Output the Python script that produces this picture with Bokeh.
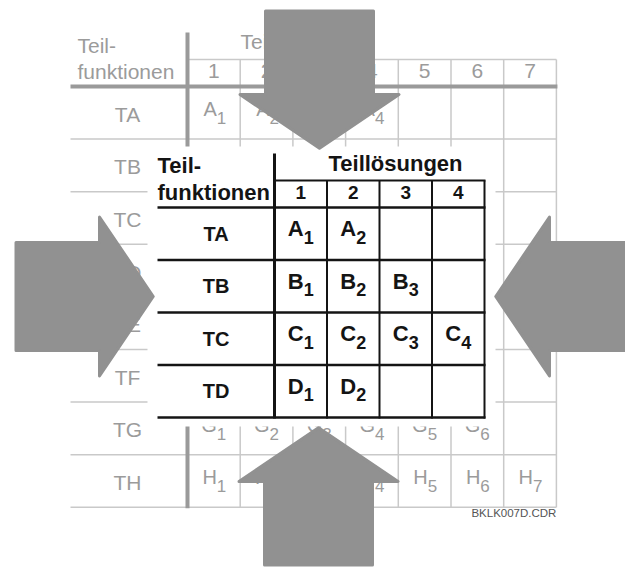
from bokeh.plotting import figure
from bokeh.models import Range1d
from bokeh.core.properties import value
from bokeh.embed import file_html
from bokeh.resources import INLINE

# ---------------- data ----------------
back_row_labels = ["TA", "TB", "TC", "TD", "TE", "TF", "TG", "TH"]
back_col_labels = ["1", "2", "3", "4", "5", "6", "7"]
back_corner_label = ["Teil-", "funktionen"]
back_title = "Teillösungen"
back_cells = {
    "TA": ["A1", "A2", "A3", "A4", "", "", ""],
    "TG": ["G1", "G2", "G3", "G4", "G5", "G6", ""],
    "TH": ["H1", "H2", "H3", "H4", "H5", "H6", "H7"],
}

front_row_labels = ["TA", "TB", "TC", "TD"]
front_col_labels = ["1", "2", "3", "4"]
front_corner_label = ["Teil-", "funktionen"]
front_title = "Teillösungen"
front_cells = [
    ["A1", "A2", "", ""],
    ["B1", "B2", "B3", ""],
    ["C1", "C2", "C3", "C4"],
    ["D1", "D2", "", ""],
]

file_name = "BKLK007D.CDR"
arrow_directions = ["down", "up", "right", "left"]

# ---------------- styles / layout ----------------
FONT = value("Liberation Sans")
GRAY_TXT = "#9b9b9b"
LGRAY = "#c9c9c9"
MGRAY = "#9a9a9a"
ARROW = "#919191"
BLACK = "#141414"
BASE_FIX = 0.43  # em correction for rendered baseline

p = figure(width=625, height=567, x_range=Range1d(0, 625), y_range=Range1d(567, 0),
           output_backend="svg", toolbar_location=None, min_border=0,
           x_axis_type=None, y_axis_type=None)
p.grid.visible = False
p.outline_line_color = None
p.background_fill_color = "white"
p.border_fill_color = "white"


def texts(xs, ys, strs, size, color, align="center", bold=False):
    ys = [y - BASE_FIX * size for y in ys]
    p.text(x=xs, y=ys, text=strs, text_font=FONT, text_font_size=f"{size}px",
           text_color=color, text_align=align, text_baseline="alphabetic",
           text_font_style="bold" if bold else "normal")


def cell_texts(centers_x, centers_y, entries, main_size, sub_size, color, bold,
               dx, dy_main, dy_sub):
    mx, my, mt, sx, sy, st = [], [], [], [], [], []
    for cx, cy, e in zip(centers_x, centers_y, entries):
        if not e:
            continue
        mx.append(cx + dx); my.append(cy + dy_main); mt.append(e[0])
        sx.append(cx + dx); sy.append(cy + dy_sub); st.append(e[1:])
    texts(mx, my, mt, main_size, color, "right", bold)
    texts(sx, sy, st, sub_size, color, "left", bold)


# ---------------- background (gray) table ----------------
BX0, BCW, BY0, BRH = 187.0, 52.7, 86.0, 52.6
BLEFT, BSUB, BTOP = 70.0, 59.0, 32.0
nbc, nbr = len(back_col_labels), len(back_row_labels)
BRIGHT = BX0 + nbc * BCW
BBOT = BY0 + nbr * BRH

hy = [BY0 + (i + 1) * BRH for i in range(nbr)]
p.multi_line(xs=[[BLEFT, BRIGHT] for _ in hy], ys=[[y, y] for y in hy],
             line_color=LGRAY, line_width=1.5)
p.line([BX0, BRIGHT], [BSUB, BSUB], line_color=LGRAY, line_width=1.5)
vx = [BX0 + (j + 1) * BCW for j in range(nbc)]
p.multi_line(xs=[[x, x] for x in vx], ys=[[BSUB, BBOT] for _ in vx],
             line_color=LGRAY, line_width=1.5)
p.line([BLEFT, BRIGHT + 1], [BY0, BY0], line_color=MGRAY, line_width=4)
p.line([BX0, BX0], [BTOP, BBOT + 1], line_color=MGRAY, line_width=4)

texts([77, 77], [54, 80], back_corner_label, 21, GRAY_TXT, "left")
texts([240], [50], [back_title], 21, GRAY_TXT, "left")
bcx = [BX0 + (j + 0.5) * BCW for j in range(nbc)]
texts(bcx, [80] * nbc, back_col_labels, 21, GRAY_TXT)
bry = [BY0 + (i + 0.5) * BRH for i in range(nbr)]
texts([127] * nbr, [y + 10.5 for y in bry], back_row_labels, 21, GRAY_TXT)
for i, lab in enumerate(back_row_labels):
    if lab in back_cells:
        cell_texts(bcx, [bry[i]] * nbc, back_cells[lab], 20, 17, GRAY_TXT, False,
                   3, 5, 12.5)

texts([BRIGHT], [517], [file_name], 11.5, "#555555", "right")

# ---------------- white cover ----------------
p.quad(left=147, right=495, top=146, bottom=426, fill_color="white", line_color=None)

# ---------------- front (black) table ----------------
FX0, FCW, FY0, FRH = 274.0, 52.5, 207.0, 52.5
FLEFT, FHEAD, FTOP = 157.0, 180.0, 153.0
nfc, nfr = len(front_col_labels), len(front_row_labels)
FRIGHT = FX0 + nfc * FCW
FBOT = FY0 + nfr * FRH

fy = [FY0 + i * FRH for i in range(nfr + 1)]
p.multi_line(xs=[[FLEFT, FRIGHT + 1] for _ in fy], ys=[[y, y] for y in fy],
             line_color=BLACK, line_width=2.5)
p.line([FX0, FRIGHT + 1], [FHEAD, FHEAD], line_color=BLACK, line_width=2)
fvx = [FX0 + (j + 1) * FCW for j in range(nfc)]
p.multi_line(xs=[[x, x] for x in fvx], ys=[[FHEAD, FBOT + 1] for _ in fvx],
             line_color=BLACK, line_width=2)
p.line([FX0, FX0], [FTOP, FBOT + 1], line_color=BLACK, line_width=3)

texts([FLEFT, FLEFT], [174, 201], front_corner_label, 22, BLACK, "left", True)
texts([395], [172], [front_title], 22, BLACK, "center", True)
fcx = [FX0 + (j + 0.5) * FCW for j in range(nfc)]
texts(fcx, [200] * nfc, front_col_labels, 19, BLACK, "center", True)
fry = [FY0 + (i + 0.5) * FRH for i in range(nfr)]
texts([(FLEFT + FX0) / 2] * nfr, [y + 8.5 for y in fry], front_row_labels, 20, BLACK,
      "center", True)
for i in range(nfr):
    cell_texts(fcx, [fry[i]] * nfc, front_cells[i], 22, 18, BLACK, True, 3, 4.5, 11)

# ---------------- arrows ----------------
SW, HW, HL, L, INSET = 111.0, 162.0, 56.0, 141.0, 1.5
tips = {"down": (319, 150), "up": (318, 425), "right": (155, 296), "left": (493, 296)}


def arrow_poly(direction):
    tx, ty = tips[direction]
    sw, hw, hl, ln = SW / 2 - INSET, HW / 2 - INSET, HL, L - INSET
    local = [(-INSET * 1.5, 0), (-hl, hw), (-hl, sw), (-ln, sw), (-ln, -sw), (-hl, -sw), (-hl, -hw)]
    xs, ys = [], []
    for u, v in local:
        if direction == "down":
            xs.append(tx + v); ys.append(ty + u)
        elif direction == "up":
            xs.append(tx + v); ys.append(ty - u)
        elif direction == "right":
            xs.append(tx + u); ys.append(ty + v)
        else:
            xs.append(tx - u); ys.append(ty + v)
    return xs, ys


axs, ays = zip(*[arrow_poly(d) for d in arrow_directions])
p.patches(xs=list(axs), ys=list(ays), fill_color=ARROW, line_color=ARROW,
          line_width=3, line_join="round")

open("out.html", "w").write(file_html(p, INLINE))
